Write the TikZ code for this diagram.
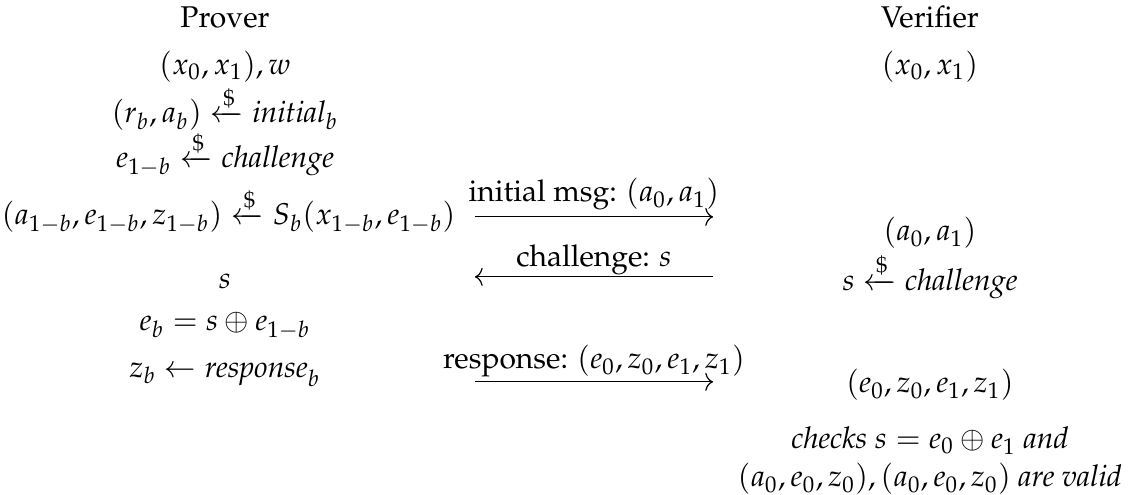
\documentclass[tikz,border=0pt]{standalone}
\usepackage{amsmath}
\usepackage[T1]{fontenc}
\usepackage{mathpazo}
\usetikzlibrary{arrows.meta,positioning}

\begin{document}
\begin{tikzpicture}[
  x=1pt,y=1pt,
  txt/.style={anchor=base,inner sep=0pt},
  msg/.style={-{To[length=2.6pt,width=6pt]},line width=.4pt},
  lbl/.style={anchor=base,inner sep=0pt,yshift=#1},
  lbl/.default=5pt
]
\useasboundingbox (0,0) rectangle (377.7,165);
\node[txt] (pv) at (75,155.7) {Prover};
\node[txt] (pin) at (75,140.3) {$(x_0,x_1),w$};
\node[txt] (pini) at (75,124) {$(r_b,a_b)\xleftarrow{\$}\textit{initial}_b$};
\node[txt] (pch) at (75,109) {$e_{1-b}\xleftarrow{\$}\textit{challenge}$};
\node[txt] (psim) at (76.2,90) {$(a_{1-b},e_{1-b},z_{1-b})\xleftarrow{\$}S_b(x_{1-b},e_{1-b})$};
\node[txt] (ps) at (75,68.7) {$s$};
\node[txt] (peb) at (75,54.7) {$e_b=s\oplus e_{1-b}$};
\node[txt] (pzb) at (75,39.3) {$z_b\leftarrow\textit{response}_b$};
\node[txt] (vf) at (310,155.7) {Verifier};
\node[txt] (vin) at (310,140.3) {$(x_0,x_1)$};
\node[txt] (va) at (310,84.7) {$(a_0,a_1)$};
\node[txt] (vs) at (310,68.3) {$s\xleftarrow{\$}\textit{challenge}$};
\node[txt] (vresp) at (310,34) {$(e_0,z_0,e_1,z_1)$};
\node[txt] (vchk) at (310,15.5) {\textit{checks} $s=e_0\oplus e_1$ \textit{and}};
\node[txt] (vval) at (310,2.7) {$(a_0,e_0,z_0),(a_0,e_0,z_0)$ \textit{are valid}};
\coordinate (m1l) at (158.3,92.7);
\coordinate (m1r) at (237.7,92.7);
\coordinate (m2l) at (158.3,72.7);
\coordinate (m2r) at (237.7,72.7);
\coordinate (m3l) at (158.3,37.7);
\coordinate (m3r) at (237.7,37.7);
\draw[msg] (m1l) -- node[lbl] (l1) {initial msg: $(a_0,a_1)$} (m1r);
\draw[msg] (m2r) -- node[lbl=3.3pt] (l2) {challenge: $s$} (m2l);
\draw[msg] (m3l) -- node[lbl=4.3pt] (l3) {response: $(e_0,z_0,e_1,z_1)$} (m3r);
\end{tikzpicture}
\end{document}
